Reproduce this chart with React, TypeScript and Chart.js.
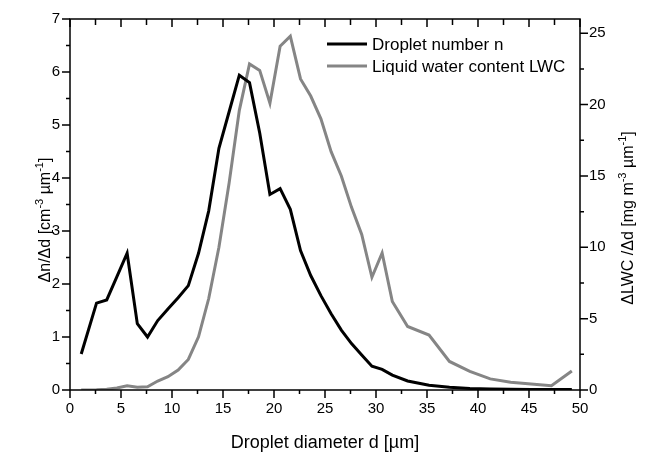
import React, { useEffect, useRef } from "react";
import { Chart, registerables } from "chart.js";

Chart.register(...registerables);

const diameters = [1.1, 2.6, 3.6, 4.6, 5.6, 6.6, 7.6, 8.6, 9.6, 10.6, 11.6, 12.6, 13.6, 14.6, 15.6, 16.6, 17.6, 18.6, 19.6, 20.6, 21.6, 22.6, 23.6, 24.6, 25.6, 26.6, 27.6, 28.6, 29.6, 30.6, 31.6, 33.1, 35.2, 37.2, 39.2, 41.2, 43.2, 45.2, 47.2, 49.2];
const dropletNumber = [0.68, 1.64, 1.7, 2.14, 2.58, 1.25, 1.0, 1.31, 1.53, 1.74, 1.97, 2.58, 3.38, 4.56, 5.25, 5.94, 5.8, 4.85, 3.69, 3.8, 3.41, 2.63, 2.16, 1.78, 1.44, 1.13, 0.875, 0.66, 0.45, 0.39, 0.28, 0.17, 0.09, 0.05, 0.03, 0.02, 0.015, 0.01, 0.01, 0.01];
const lwc = [0.0, 0.02, 0.06, 0.14, 0.3, 0.2, 0.23, 0.63, 0.93, 1.4, 2.14, 3.73, 6.41, 10.0, 14.5, 19.6, 22.85, 22.4, 20.1, 24.1, 24.8, 21.8, 20.6, 19.0, 16.7, 15.0, 12.8, 10.9, 7.9, 9.6, 6.2, 4.45, 3.85, 2.0, 1.3, 0.78, 0.55, 0.42, 0.3, 1.33];

const seriesLabels = ["Droplet number n", "Liquid water content LWC"];
const xTitle = "Droplet diameter d [µm]";
const leftTitleParts: [string, boolean][] = [["Δn/Δd [cm", false], ["-3", true], [" µm", false], ["-1", true], ["]", false]];
const rightTitleParts: [string, boolean][] = [["ΔLWC /Δd [mg m", false], ["-3", true], [" µm", false], ["-1", true], ["]", false]];

const FONT = "'Liberation Sans', Arial, sans-serif";

function drawParts(ctx: CanvasRenderingContext2D, parts: [string, boolean][], size: number, supSize: number) {
  let total = 0;
  const widths = parts.map(([t, sup]) => {
    ctx.font = `${sup ? supSize : size}px ${FONT}`;
    const w = ctx.measureText(t).width;
    total += w;
    return w;
  });
  let x = -total / 2;
  parts.forEach(([t, sup], i) => {
    ctx.font = `${sup ? supSize : size}px ${FONT}`;
    ctx.fillText(t, x, sup ? -size * 0.45 : 0);
    x += widths[i];
  });
}

const framePlugin = {
  id: "frame",
  afterDraw(chart: any) {
    const { ctx, chartArea } = chart;
    const { left, right, top, bottom } = chartArea;
    const xs = chart.scales.x;
    const yl = chart.scales.y;
    const yr = chart.scales.y2;
    ctx.save();
    ctx.strokeStyle = "#000";
    ctx.lineWidth = 1.5;
    ctx.beginPath();
    ctx.rect(left, top, right - left, bottom - top);
    ctx.stroke();
    ctx.beginPath();
    // x ticks
    for (let v = 0; v <= 50.001; v += 2.5) {
      const px = xs.getPixelForValue(v);
      const major = Math.abs(v % 5) < 1e-6;
      ctx.moveTo(px, bottom);
      ctx.lineTo(px, bottom + (major ? 8 : 4));
      ctx.moveTo(px, top);
      ctx.lineTo(px, top + (major ? 8 : 6));
    }
    // left ticks
    for (let v = 0; v <= 7.001; v += 0.5) {
      const py = yl.getPixelForValue(v);
      const major = Math.abs(v % 1) < 1e-6;
      ctx.moveTo(left, py);
      ctx.lineTo(left - (major ? 8 : 4), py);
    }
    // right ticks
    for (let v = 0; v <= 26.001; v += 2.5) {
      const py = yr.getPixelForValue(v);
      const major = Math.abs(v % 5) < 1e-6;
      ctx.moveTo(right, py);
      ctx.lineTo(right + (major ? 8 : 4), py);
    }
    ctx.stroke();

    // titles
    ctx.fillStyle = "#000";
    ctx.textBaseline = "alphabetic";
    ctx.textAlign = "left";
    ctx.font = `18px ${FONT}`;
    const xw = ctx.measureText(xTitle).width;
    ctx.fillText(xTitle, (left + right) / 2 - xw / 2, 448);

    ctx.save();
    ctx.translate(50, 220);
    ctx.rotate(-Math.PI / 2);
    drawParts(ctx, leftTitleParts, 16, 11);
    ctx.restore();

    ctx.save();
    ctx.translate(633, 218);
    ctx.rotate(-Math.PI / 2);
    drawParts(ctx, rightTitleParts, 16, 11);
    ctx.restore();

    // legend
    const ds = chart.data.datasets;
    const rows = [44, 66];
    ds.forEach((d: any, i: number) => {
      const y = rows[i];
      ctx.strokeStyle = d.borderColor;
      ctx.lineWidth = 3;
      ctx.beginPath();
      ctx.moveTo(327, y);
      ctx.lineTo(367, y);
      ctx.stroke();
      ctx.font = `17px ${FONT}`;
      ctx.textBaseline = "middle";
      ctx.fillText(d.label, 372, y + 1);
    });
    ctx.restore();
  },
};

export default function App() {
  const ref = useRef<HTMLCanvasElement>(null);
  useEffect(() => {
    document.body.style.margin = "0";
    const canvas = ref.current!;
    const tickFont = { family: FONT, size: 15 };
    const chart = new Chart(canvas, {
      type: "line",
      data: {
        datasets: [
          {
            label: seriesLabels[0],
            data: diameters.map((d, i) => ({ x: d, y: dropletNumber[i] })),
            borderColor: "#000000",
            borderWidth: 3,
            pointRadius: 0,
            tension: 0,
            yAxisID: "y",
          },
          {
            label: seriesLabels[1],
            data: diameters.map((d, i) => ({ x: d, y: lwc[i] })),
            borderColor: "#858585",
            borderWidth: 3,
            pointRadius: 0,
            tension: 0,
            yAxisID: "y2",
          },
        ],
      },
      options: {
        animation: false,
        responsive: false,
        devicePixelRatio: 1,
        layout: { padding: { top: 17, left: 0, right: 0, bottom: 0 } },
        plugins: { legend: { display: false }, tooltip: { enabled: false } },
        scales: {
          x: {
            type: "linear",
            min: 0,
            max: 50,
            ticks: { stepSize: 5, color: "#000", font: tickFont, padding: 10, maxRotation: 0 },
            grid: { display: false, drawTicks: false },
            border: { display: false },
            afterFit: (s: any) => { s.height = 62; },
          },
          y: {
            type: "linear",
            position: "left",
            min: 0,
            max: 7,
            ticks: { stepSize: 1, color: "#000", font: tickFont, padding: 10 },
            grid: { display: false, drawTicks: false },
            border: { display: false },
            afterFit: (s: any) => { s.width = 70; },
          },
          y2: {
            type: "linear",
            position: "right",
            min: 0,
            max: 26,
            ticks: { stepSize: 5, color: "#000", font: tickFont, padding: 9, includeBounds: false },
            grid: { display: false, drawTicks: false },
            border: { display: false },
            afterFit: (s: any) => { s.width = 66; },
          },
        },
      },
      plugins: [framePlugin],
    });
    return () => chart.destroy();
  }, []);
  return (
    <div style={{ width: 646, height: 452 }}>
      <canvas ref={ref} width={646} height={452} />
    </div>
  );
}
